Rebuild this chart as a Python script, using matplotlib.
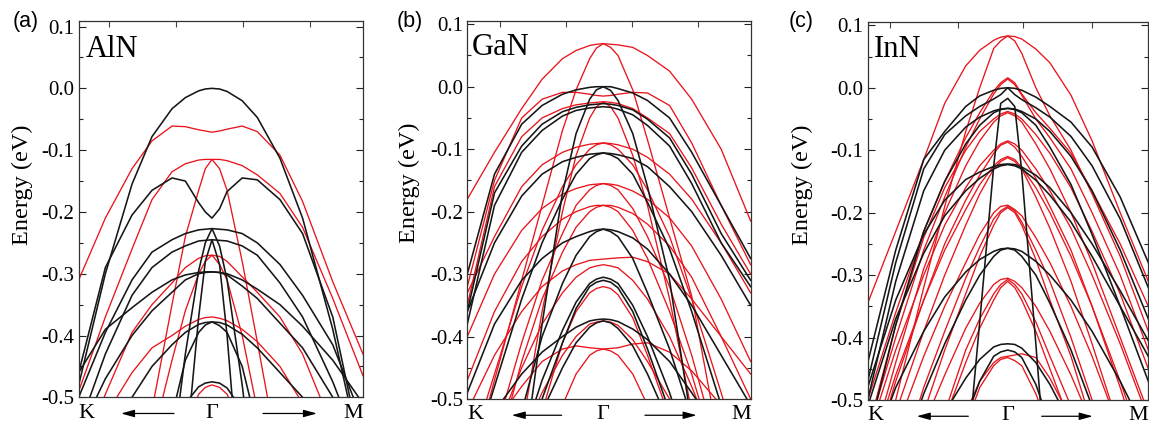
import numpy as np
import matplotlib
matplotlib.use("Agg")
import matplotlib.pyplot as plt
from matplotlib.ticker import MultipleLocator, FuncFormatter

plt.rcParams['font.family'] = ['Liberation Serif', 'DejaVu Serif']

# k path, as a fraction of K-Gamma (negative side) and Gamma-M (positive side)
kpath = [-1, -0.8, -0.6, -0.45, -0.3, -0.2, -0.1, -0.05, 0, 0.05, 0.1, 0.2, 0.3, 0.45, 0.6, 0.8, 1]
N = None  # band is off the plot there

# ---- AlN ----
aln_bands = [
    [-0.31, -0.21, -0.13, -0.085, -0.061, -0.062, -0.067, -0.069, -0.071, -0.069, -0.066, -0.061, -0.07, -0.108, -0.183, -0.313, -0.43],
    [-0.49, -0.37, -0.26, -0.18, -0.135, -0.122, -0.116, -0.115, -0.115, -0.115, -0.117, -0.125, -0.14, -0.17, -0.225, -0.34, -0.465],
    [N, N, N, -0.52, -0.35, -0.24, -0.165, -0.13, -0.115, -0.13, -0.165, -0.28, -0.41, -0.61, N, N, N],
    [-0.62, -0.495, -0.395, -0.35, -0.315, -0.29, -0.275, -0.271, -0.27, -0.272, -0.28, -0.305, -0.33, -0.37, -0.43, -0.55, -0.7],
    [N, N, N, -0.57, -0.44, -0.36, -0.3, -0.28, -0.27, -0.285, -0.31, -0.4, -0.52, N, N, N, N],
    [-0.62, -0.53, -0.46, -0.42, -0.40, -0.385, -0.374, -0.371, -0.37, -0.372, -0.376, -0.39, -0.41, -0.45, -0.51, -0.6, N],
    [N, N, N, N, N, -0.55, -0.495, -0.484, -0.48, -0.484, -0.495, -0.55, N, N, N, N, N],
    [-0.48, -0.30, -0.155, -0.078, -0.033, -0.015, -0.004, -0.001, 0.0, -0.001, -0.005, -0.02, -0.047, -0.113, -0.21, -0.39, -0.61],
    [-0.46, -0.29, -0.205, -0.165, -0.145, -0.15, -0.185, -0.2, -0.21, -0.195, -0.167, -0.145, -0.148, -0.18, -0.235, -0.37, -0.6],
    [-0.50, -0.395, -0.31, -0.265, -0.245, -0.235, -0.229, -0.228, -0.227, -0.228, -0.229, -0.235, -0.25, -0.285, -0.335, -0.415, -0.54],
    [-0.55, -0.43, -0.335, -0.29, -0.265, -0.255, -0.247, -0.246, -0.245, -0.246, -0.247, -0.255, -0.27, -0.315, -0.37, -0.475, -0.6],
    [N, N, N, N, -0.6, -0.43, -0.295, -0.25, -0.227, -0.255, -0.31, -0.48, -0.68, N, N, N, N],
    [N, N, N, N, N, -0.6, -0.37, -0.28, -0.245, -0.285, -0.4, -0.7, N, N, N, N, N],
    [-0.46, -0.39, -0.355, -0.33, -0.31, -0.302, -0.298, -0.297, -0.297, -0.298, -0.30, -0.31, -0.325, -0.35, -0.385, -0.44, -0.51],
    [-0.56, -0.47, -0.40, -0.36, -0.33, -0.31, -0.30, -0.298, -0.297, -0.298, -0.302, -0.32, -0.34, -0.38, -0.42, -0.5, -0.6],
    [N, -0.58, -0.50, -0.45, -0.415, -0.395, -0.382, -0.379, -0.378, -0.379, -0.383, -0.398, -0.42, -0.46, -0.50, -0.58, N],
    [N, N, N, N, -0.53, -0.44, -0.395, -0.383, -0.378, -0.384, -0.395, -0.45, -0.55, N, N, N, N],
    [N, N, N, N, N, -0.51, -0.483, -0.477, -0.475, -0.477, -0.485, -0.52, N, N, N, N, N],
]
aln_set = ['r', 'r', 'r', 'r', 'r', 'r', 'r',
           'k', 'k', 'k', 'k', 'k', 'k', 'k', 'k', 'k', 'k', 'k']

# ---- GaN ----
gan_bands = [
    [-0.18, -0.105, -0.035, 0.012, 0.045, 0.058, 0.066, 0.068, 0.069, 0.068, 0.067, 0.063, 0.05, 0.025, -0.02, -0.10, -0.215],
    [-0.63, -0.47, -0.31, -0.19, -0.07, -0.005, 0.045, 0.062, 0.069, 0.063, 0.05, -0.005, -0.085, -0.21, -0.335, -0.59, N],
    [-0.32, -0.15, -0.05, -0.02, -0.009, -0.009, -0.012, -0.014, -0.015, -0.014, -0.012, -0.009, -0.01, -0.03, -0.09, -0.19, -0.285],
    [-0.35, -0.16, -0.08, -0.05, -0.035, -0.029, -0.026, -0.025, -0.024, -0.025, -0.027, -0.035, -0.05, -0.075, -0.13, -0.22, -0.30],
    [N, N, -0.55, -0.36, -0.2, -0.11, -0.05, -0.032, -0.024, -0.032, -0.05, -0.11, -0.19, -0.34, -0.52, N, N],
    [-0.33, -0.24, -0.16, -0.125, -0.105, -0.097, -0.092, -0.091, -0.09, -0.091, -0.093, -0.1, -0.113, -0.14, -0.18, -0.25, -0.33],
    [-0.6, -0.46, -0.32, -0.23, -0.16, -0.125, -0.1, -0.093, -0.09, -0.093, -0.1, -0.125, -0.165, -0.24, -0.34, -0.49, -0.65],
    [-0.40, -0.30, -0.23, -0.195, -0.172, -0.163, -0.157, -0.156, -0.155, -0.156, -0.158, -0.167, -0.18, -0.21, -0.255, -0.34, -0.44],
    [N, -0.56, -0.41, -0.31, -0.235, -0.19, -0.165, -0.158, -0.155, -0.158, -0.165, -0.195, -0.24, -0.32, -0.43, -0.6, N],
    [-0.47, -0.36, -0.28, -0.24, -0.212, -0.2, -0.192, -0.19, -0.19, -0.19, -0.193, -0.203, -0.22, -0.255, -0.305, -0.40, -0.5],
    [N, -0.6, -0.44, -0.34, -0.265, -0.225, -0.2, -0.193, -0.19, -0.193, -0.2, -0.23, -0.275, -0.36, -0.46, -0.62, N],
    [-0.52, -0.43, -0.36, -0.32, -0.295, -0.285, -0.278, -0.277, -0.276, -0.275, -0.274, -0.273, -0.28, -0.30, -0.34, -0.40, -0.46],
    [N, -0.56, -0.45, -0.38, -0.33, -0.305, -0.29, -0.287, -0.285, -0.287, -0.29, -0.31, -0.34, -0.40, -0.48, -0.6, N],
    [N, N, N, -0.52, -0.41, -0.36, -0.33, -0.323, -0.32, -0.323, -0.333, -0.37, -0.43, -0.53, N, N, N],
    [N, N, -0.56, -0.49, -0.43, -0.40, -0.38, -0.377, -0.375, -0.377, -0.382, -0.405, -0.44, -0.5, -0.56, N, N],
    [N, -0.54, -0.48, -0.44, -0.42, -0.415, -0.418, -0.419, -0.42, -0.419, -0.418, -0.412, -0.41, -0.425, -0.455, -0.51, N],
    [N, N, N, N, -0.51, -0.46, -0.43, -0.423, -0.42, -0.423, -0.43, -0.46, -0.51, N, N, N, N],
    [-0.30, -0.14, -0.06, -0.03, -0.012, -0.005, -0.001, 0.0, 0.0, 0.0, -0.003, -0.01, -0.022, -0.05, -0.105, -0.19, -0.275],
    [-0.36, -0.17, -0.095, -0.06, -0.04, -0.033, -0.029, -0.028, -0.027, -0.028, -0.03, -0.037, -0.052, -0.082, -0.14, -0.235, -0.31],
    [-0.38, -0.19, -0.105, -0.07, -0.047, -0.038, -0.034, -0.033, -0.032, -0.033, -0.036, -0.045, -0.062, -0.095, -0.155, -0.25, -0.32],
    [N, N, -0.62, -0.38, -0.17, -0.075, -0.02, -0.005, 0.0, -0.006, -0.022, -0.075, -0.16, -0.31, -0.54, N, N],
    [-0.36, -0.25, -0.175, -0.14, -0.12, -0.113, -0.108, -0.107, -0.106, -0.107, -0.109, -0.115, -0.128, -0.16, -0.2, -0.27, -0.35],
    [-0.62, -0.48, -0.34, -0.25, -0.18, -0.14, -0.115, -0.109, -0.106, -0.109, -0.115, -0.14, -0.185, -0.26, -0.36, -0.51, -0.68],
    [-0.49, -0.38, -0.31, -0.275, -0.25, -0.24, -0.232, -0.229, -0.228, -0.229, -0.232, -0.242, -0.26, -0.30, -0.35, -0.43, -0.51],
    [N, N, -0.52, -0.4, -0.315, -0.27, -0.24, -0.232, -0.228, -0.232, -0.24, -0.275, -0.33, -0.42, -0.53, N, N],
    [N, N, -0.57, -0.47, -0.39, -0.345, -0.315, -0.308, -0.305, -0.308, -0.315, -0.35, -0.40, -0.49, -0.6, N, N],
    [N, N, -0.6, -0.5, -0.41, -0.355, -0.32, -0.313, -0.31, -0.313, -0.322, -0.36, -0.42, -0.52, N, N, N],
    [N, -0.52, -0.46, -0.425, -0.40, -0.385, -0.375, -0.373, -0.372, -0.373, -0.376, -0.388, -0.405, -0.44, -0.49, -0.56, N],
    [N, N, N, -0.52, -0.45, -0.41, -0.385, -0.378, -0.375, -0.378, -0.387, -0.415, -0.46, -0.54, N, N, N],
]
gan_set = ['r'] * 17 + ['k'] * 12

# ---- InN ----
inn_bands = [
    [-0.345, -0.23, -0.115, -0.025, 0.035, 0.06, 0.076, 0.081, 0.083, 0.082, 0.078, 0.062, 0.04, -0.012, -0.085, -0.2, -0.31],
    [-0.68, -0.5, -0.32, -0.19, -0.07, 0.0, 0.063, 0.075, 0.083, 0.075, 0.055, 0.0, -0.045, -0.1, -0.17, -0.27, -0.39],
    [-0.5, -0.36, -0.23, -0.15, -0.08, -0.04, -0.005, 0.008, 0.016, 0.008, -0.01, -0.04, -0.065, -0.105, -0.165, -0.25, -0.35],
    [-0.55, -0.40, -0.26, -0.175, -0.095, -0.05, -0.01, 0.005, 0.014, 0.005, -0.012, -0.05, -0.08, -0.13, -0.20, -0.30, -0.42],
    [-0.55, -0.38, -0.24, -0.16, -0.1, -0.07, -0.05, -0.042, -0.038, -0.042, -0.05, -0.075, -0.105, -0.16, -0.23, -0.33, -0.45],
    [-0.6, -0.44, -0.29, -0.2, -0.125, -0.085, -0.055, -0.045, -0.04, -0.045, -0.055, -0.09, -0.13, -0.2, -0.28, -0.4, -0.52],
    [-0.56, -0.42, -0.3, -0.22, -0.16, -0.125, -0.1, -0.09, -0.085, -0.09, -0.1, -0.13, -0.165, -0.225, -0.3, -0.41, -0.53],
    [-0.62, -0.47, -0.34, -0.25, -0.18, -0.14, -0.105, -0.092, -0.087, -0.095, -0.11, -0.145, -0.19, -0.26, -0.35, -0.48, -0.62],
    [-0.6, -0.46, -0.34, -0.26, -0.195, -0.155, -0.125, -0.115, -0.11, -0.115, -0.128, -0.16, -0.2, -0.27, -0.35, -0.47, -0.6],
    [N, -0.52, -0.39, -0.3, -0.22, -0.17, -0.13, -0.118, -0.112, -0.118, -0.13, -0.175, -0.225, -0.31, -0.41, -0.55, N],
    [N, -0.55, -0.43, -0.35, -0.28, -0.235, -0.2, -0.19, -0.188, -0.195, -0.205, -0.24, -0.28, -0.35, -0.43, -0.55, N],
    [N, -0.62, -0.48, -0.39, -0.305, -0.255, -0.21, -0.197, -0.19, -0.197, -0.215, -0.26, -0.31, -0.4, -0.5, -0.62, N],
    [N, N, -0.52, -0.42, -0.33, -0.27, -0.22, -0.2, -0.192, -0.2, -0.22, -0.275, -0.34, -0.43, -0.54, N, N],
    [N, N, -0.54, -0.46, -0.385, -0.345, -0.315, -0.307, -0.305, -0.31, -0.32, -0.35, -0.39, -0.46, -0.54, N, N],
    [N, N, N, -0.52, -0.42, -0.37, -0.33, -0.315, -0.307, -0.315, -0.33, -0.375, -0.43, -0.51, N, N, N],
    [N, N, N, -0.53, -0.44, -0.385, -0.34, -0.32, -0.31, -0.32, -0.34, -0.39, -0.45, -0.54, N, N, N],
    [N, N, N, N, -0.52, -0.47, -0.44, -0.432, -0.43, -0.428, -0.426, -0.432, -0.465, -0.53, N, N, N],
    [N, N, N, N, -0.54, -0.48, -0.445, -0.435, -0.432, -0.437, -0.445, -0.49, -0.55, N, N, N, N],
    [-0.44, -0.26, -0.115, -0.07, -0.03, -0.013, -0.004, -0.001, 0.0, -0.001, -0.004, -0.015, -0.03, -0.055, -0.095, -0.175, -0.28],
    [-0.47, -0.28, -0.13, -0.075, -0.045, -0.03, -0.018, -0.011, 0.0, -0.011, -0.019, -0.032, -0.047, -0.078, -0.125, -0.21, -0.32],
    [N, N, N, -1.0, -0.62, -0.375, -0.125, -0.025, -0.017, -0.03, -0.135, -0.41, -0.7, N, N, N, N],
    [-0.5, -0.31, -0.165, -0.1, -0.063, -0.047, -0.037, -0.034, -0.033, -0.034, -0.038, -0.05, -0.07, -0.11, -0.165, -0.26, -0.37],
    [-0.56, -0.38, -0.23, -0.15, -0.09, -0.06, -0.04, -0.035, -0.033, -0.035, -0.04, -0.06, -0.095, -0.155, -0.235, -0.35, -0.47],
    [-0.48, -0.34, -0.235, -0.18, -0.147, -0.135, -0.126, -0.123, -0.122, -0.123, -0.127, -0.14, -0.16, -0.2, -0.25, -0.325, -0.405],
    [-0.51, -0.37, -0.265, -0.205, -0.165, -0.145, -0.13, -0.125, -0.123, -0.125, -0.13, -0.148, -0.172, -0.215, -0.27, -0.35, -0.43],
    [-0.6, -0.48, -0.39, -0.335, -0.295, -0.275, -0.262, -0.258, -0.257, -0.258, -0.262, -0.278, -0.3, -0.34, -0.39, -0.47, -0.56],
    [N, -0.62, -0.49, -0.41, -0.34, -0.3, -0.27, -0.26, -0.257, -0.26, -0.27, -0.3, -0.345, -0.42, -0.51, N, N],
    [N, N, N, -0.52, -0.465, -0.435, -0.415, -0.411, -0.41, -0.411, -0.417, -0.44, -0.475, -0.54, N, N, N],
    [N, N, N, N, -0.53, -0.47, -0.43, -0.423, -0.42, -0.423, -0.432, -0.475, -0.54, N, N, N, N],
]
inn_set = ['r'] * 18 + ['k'] * 11

panel_names = ['AlN', 'GaN', 'InN']
panel_tags = ['(a)', '(b)', '(c)']
yticks = [-0.5, -0.4, -0.3, -0.2, -0.1, 0.0, 0.1]

colors = {'k': '#161616', 'r': '#e8141c'}
widths = {'k': 1.15, 'r': 0.95}

# layout (figure fractions), K / M extents, top ticks, arrows, label spots
rects = [[0.0685, 0.063, 0.2474, 0.888],
         [0.4067, 0.059, 0.2466, 0.892],
         [0.7552, 0.0566, 0.2442, 0.892]]
ytop = [0.1094, 0.1056, 0.1056]
k_len = [1.333, 1.36, 1.40]
m_len = [1.51, 1.474, 1.406]
top_ticks = [[-1.03, -0.36, 0.31, 0.98],
             [-1.03, -0.373, 0.287, 0.947],
             [-1.177, -0.5, 0.153, 0.843]]
arrows = [[(-0.38, -0.91), (0.51, 1.05)],
          [(-0.416, -0.916), (0.417, 0.934)],
          [(-0.394, -0.91), (0.34, 0.85)]]
name_pos = [(0.026, 0.904), (0.017, 0.909), (0.022, 0.907)]
ylab_pos = [(-0.198, 0.564), (-0.204, 0.571), (-0.233, 0.568)]
tag_x = [26, 410, 800.7]

fig = plt.figure(figsize=(11.49, 4.24), dpi=100)

all_bands = [aln_bands, gan_bands, inn_bands]
all_sets = [aln_set, gan_set, inn_set]
kp = np.array(kpath, dtype=float)

for i in range(3):
    ax = fig.add_axes(rects[i])
    xs = np.where(kp < 0, kp * k_len[i], kp * m_len[i])
    # red set first, black on top
    order = sorted(range(len(all_bands[i])), key=lambda j: all_sets[i][j] == 'k')
    for j in order:
        e = np.array(all_bands[i][j], dtype=float)
        s = all_sets[i][j]
        ax.plot(xs, e, color=colors[s], lw=widths[s], solid_joinstyle='round')

    ax.set_xlim(-k_len[i], m_len[i])
    ax.set_ylim(-0.5, ytop[i])
    ax.set_yticks(yticks)
    ax.yaxis.set_minor_locator(MultipleLocator(0.05))
    ax.yaxis.set_major_formatter(FuncFormatter(lambda v, p: f"{round(v, 2):.1f}"))
    ax.tick_params(axis='y', which='both', direction='in', left=True, right=True,
                   labelsize=15, width=0.8, colors='#222222', labelcolor='k')
    ax.tick_params(axis='y', which='major', length=5, pad=3)
    ax.tick_params(axis='y', which='minor', length=3)
    ax.set_xticks(top_ticks[i])
    ax.tick_params(axis='x', which='both', bottom=False, top=True, labelbottom=False,
                   labeltop=False, direction='in', length=4, width=0.8, colors='#444444')
    for sp in ax.spines.values():
        sp.set_linewidth(0.9)
        sp.set_color('#333333')

    ax.text(name_pos[i][0], name_pos[i][1], panel_names[i], transform=ax.transAxes,
            fontsize=22, ha='left', va='baseline')
    ax.text(ylab_pos[i][0], ylab_pos[i][1], 'Energy (eV)', transform=ax.transAxes,
            fontsize=17.5, rotation=90, ha='center', va='center')

    # k-path labels
    ax.text(-k_len[i], -0.054, 'K', transform=ax.get_xaxis_transform(), fontsize=16,
            ha='left', va='baseline')
    ax.text(0, -0.054, 'Γ', transform=ax.get_xaxis_transform(), fontsize=16,
            ha='center', va='baseline')
    ax.text(m_len[i], -0.054, 'M', transform=ax.get_xaxis_transform(), fontsize=16,
            ha='right', va='baseline')
    for tail, head in arrows[i]:
        ax.annotate('', xy=(head, -0.043), xytext=(tail, -0.043),
                    xycoords=('data', 'axes fraction'), textcoords=('data', 'axes fraction'),
                    arrowprops=dict(arrowstyle='-|>,head_length=0.8,head_width=0.22',
                                    color='k', lw=0.9, shrinkA=0, shrinkB=0),
                    annotation_clip=False)

    fig.text(tag_x[i] / 1149, 1 - 22 / 424, panel_tags[i], fontsize=15.5,
             family=['Liberation Sans', 'DejaVu Sans'], ha='center', va='center')

fig.savefig('out.png', dpi=100)
